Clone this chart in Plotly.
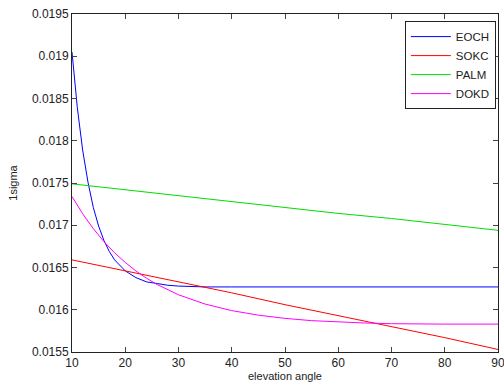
import plotly.graph_objects as go

# elevation angles
eoch_x = [10, 11, 12, 13, 14, 15, 16, 17, 18, 19, 20, 22, 24, 26, 28, 30, 35, 40, 50, 60, 70, 80, 90]
eoch_y = [0.01905, 0.01839, 0.01789, 0.01751, 0.01721, 0.01699, 0.01682, 0.01669, 0.01659,
          0.01652, 0.01646, 0.01638, 0.01633, 0.01631, 0.01629, 0.01628, 0.01627, 0.01627,
          0.01627, 0.01627, 0.01627, 0.01627, 0.01627]

sokc_x = [10, 20, 30, 40, 50, 60, 70, 80, 90]
sokc_y = [0.01659, 0.01646, 0.01633, 0.01620, 0.01606, 0.01593, 0.01580, 0.01567, 0.01553]

palm_x = [10, 20, 30, 40, 50, 60, 70, 80, 90]
palm_y = [0.01749, 0.01742, 0.01735, 0.01728, 0.01721, 0.01714, 0.01708, 0.01701, 0.01694]

dokd_x = [10, 12, 14, 16, 18, 20, 22, 24, 26, 28, 30, 35, 40, 45, 50, 55, 60, 65, 70, 75, 80, 90]
dokd_y = [0.01734, 0.017136, 0.01696, 0.016806, 0.016674, 0.01656, 0.016459, 0.016373,
          0.016298, 0.016233, 0.016177, 0.016067, 0.01599, 0.015936, 0.015898, 0.015871,
          0.015855, 0.015843, 0.015835, 0.01583, 0.01583, 0.01583]

x_ticks = [10, 20, 30, 40, 50, 60, 70, 80, 90]
y_ticks = [0.0155, 0.016, 0.0165, 0.017, 0.0175, 0.018, 0.0185, 0.019, 0.0195]
y_labels = ["0.0155", "0.016", "0.0165", "0.017", "0.0175", "0.018", "0.0185", "0.019", "0.0195"]

fig = go.Figure()
series = [("EOCH", eoch_x, eoch_y, "#0000ff"),
          ("SOKC", sokc_x, sokc_y, "#ff0000"),
          ("PALM", palm_x, palm_y, "#00dd00"),
          ("DOKD", dokd_x, dokd_y, "#ff00ff")]
for name, xs, ys, col in series:
    fig.add_trace(go.Scatter(x=xs, y=ys, mode="lines", name=name,
                             line=dict(color=col, width=1)))

font = dict(family="Liberation Sans, Arial, sans-serif", size=12, color="#222222")
fig.update_layout(
    width=504, height=388,
    margin=dict(l=72, r=6, t=14, b=36),
    paper_bgcolor="white", plot_bgcolor="white",
    font=font,
    showlegend=True,
    legend=dict(x=0.995, y=0.979, xanchor="right", yanchor="top",
                bgcolor="white", bordercolor="#222222", borderwidth=1,
                font=dict(family="Liberation Sans, Arial, sans-serif", size=11.5, color="#222222"),
                itemwidth=40, tracegroupgap=0),
)
fig.update_xaxes(range=[10, 90], tickvals=x_ticks, ticks="inside", ticklen=5,
                 showline=True, linecolor="#222222", linewidth=1, mirror="ticks",
                 showgrid=False, zeroline=False, automargin=False,
                 ticklabeloverflow="allow",
                 title=dict(text="elevation angle", standoff=2, font=dict(size=11)))
fig.update_yaxes(range=[0.0155, 0.0195], tickvals=y_ticks, ticktext=y_labels,
                 ticks="inside", ticklen=5,
                 showline=True, linecolor="#222222", linewidth=1, mirror="ticks",
                 showgrid=False, zeroline=False, automargin=False,
                 title=dict(text="1sigma", standoff=12, font=dict(size=11)))

fig.write_html("out.html", config={"displayModeBar": False},
               post_script="document.body.style.margin='0';document.body.style.overflow='hidden';")
